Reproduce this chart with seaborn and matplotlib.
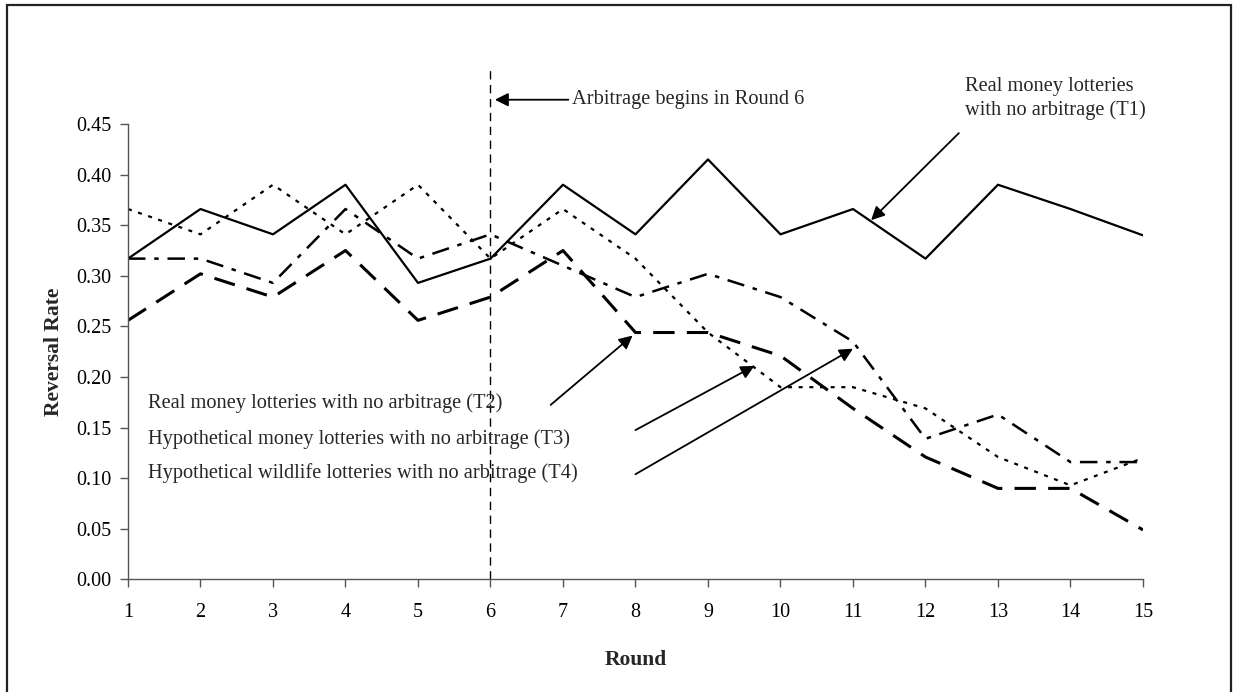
import matplotlib
matplotlib.use("Agg")
import matplotlib.pyplot as plt
import matplotlib.patches as mpatches
import seaborn as sns

# data
rounds = list(range(1, 16))
t1_real_money = [0.317, 0.366, 0.341, 0.390, 0.293, 0.317, 0.390, 0.341,
                 0.415, 0.341, 0.366, 0.317, 0.390, 0.366, 0.340]
t2_real_money = [0.256, 0.302, 0.279, 0.325, 0.256, 0.279, 0.325, 0.244,
                 0.244, 0.221, 0.169, 0.121, 0.090, 0.090, 0.049]
t3_hyp_money = [0.366, 0.341, 0.390, 0.341, 0.390, 0.317, 0.366, 0.317,
                0.244, 0.190, 0.190, 0.169, 0.121, 0.093, 0.120]
t4_hyp_wildlife = [0.317, 0.317, 0.293, 0.366, 0.317, 0.341, 0.310, 0.279,
                   0.302, 0.279, 0.235, 0.139, 0.163, 0.116, 0.116]

arbitrage_round = 6
y_ticks = [0.00, 0.05, 0.10, 0.15, 0.20, 0.25, 0.30, 0.35, 0.40, 0.45]

label_t1 = "Real money lotteries\nwith no arbitrage (T1)"
label_t2 = "Real money lotteries with no arbitrage (T2)"
label_t3 = "Hypothetical money lotteries with no arbitrage (T3)"
label_t4 = "Hypothetical wildlife lotteries with no arbitrage (T4)"
label_arb = "Arbitrage begins in Round 6"

sns.set_theme(style="white")
plt.rcParams['font.family'] = ['Liberation Serif', 'DejaVu Serif']

fig = plt.figure(figsize=(12.33, 6.92), dpi=100)
ax = fig.add_axes([0.1038, 0.1626, 0.8232, 0.6582])

sns.lineplot(x=rounds, y=t1_real_money, ax=ax, color='black', lw=1.6)
sns.lineplot(x=rounds, y=t2_real_money, ax=ax, color='black', lw=2.2,
             linestyle=(0, (7, 4)))
sns.lineplot(x=rounds, y=t3_hyp_money, ax=ax, color='black', lw=1.6,
             linestyle=(0, (1.8, 3)))
sns.lineplot(x=rounds, y=t4_hyp_wildlife, ax=ax, color='black', lw=1.8,
             linestyle=(0, (7, 3.5, 1.8, 3.5)))

# vertical marker where arbitrage starts
ax.plot([arbitrage_round, arbitrage_round], [0, 0.503], color='black',
        lw=1.0, linestyle=(0, (6, 4)), clip_on=False)

ax.set_xlim(1, 15)
ax.set_ylim(0, 0.45)
ax.set_xticks(rounds)
ax.set_yticks(y_ticks)
ax.set_yticklabels([f"{v:.2f}" for v in y_ticks])
ax.tick_params(axis='both', labelsize=14.5, colors='black', length=6,
               width=1, direction='out', left=True, bottom=True)
ax.tick_params(axis='x', pad=11, color='#555555')
ax.tick_params(axis='y', pad=6, color='#555555')
for side in ['top', 'right']:
    ax.spines[side].set_visible(False)
for side in ['left', 'bottom']:
    ax.spines[side].set_color('#555555')
    ax.spines[side].set_linewidth(1.0)

ax.set_xlabel("Round", fontsize=15.5, fontweight='bold', labelpad=20)
ax.set_ylabel("Reversal Rate", fontsize=15.5, fontweight='bold', labelpad=9)

arrow = dict(arrowstyle='-|>', color='black', lw=1.3, mutation_scale=20,
             shrinkA=0, shrinkB=0)

ax.annotate(label_arb, xy=(6.06, 0.474), xytext=(7.12, 0.474),
            fontsize=14.7, va='center', ha='left', arrowprops=arrow,
            annotation_clip=False)

ax.text(12.55, 0.475, label_t1, fontsize=14.7, ha='left', va='center',
        linespacing=1.3, clip_on=False)
ax.annotate('', xy=(11.25, 0.355), xytext=(12.46, 0.441), arrowprops=arrow,
            annotation_clip=False)

ax.text(1.27, 0.174, label_t2, fontsize=14.7, ha='left', va='center')
ax.text(1.27, 0.139, label_t3, fontsize=14.7, ha='left', va='center')
ax.text(1.27, 0.105, label_t4, fontsize=14.7, ha='left', va='center')

ax.annotate('', xy=(7.96, 0.241), xytext=(6.83, 0.1725), arrowprops=arrow)
ax.annotate('', xy=(9.64, 0.211), xytext=(8.0, 0.1476), arrowprops=arrow)
ax.annotate('', xy=(11.0, 0.228), xytext=(8.0, 0.104), arrowprops=arrow)

# frame around the whole chart (bottom edge falls outside the image)
fig.patches.append(mpatches.Rectangle((0.0057, -0.02), 0.9925, 1.0128,
                                      transform=fig.transFigure, fill=False,
                                      lw=1.6, ec='#222222'))

fig.savefig("out.png", dpi=100)
